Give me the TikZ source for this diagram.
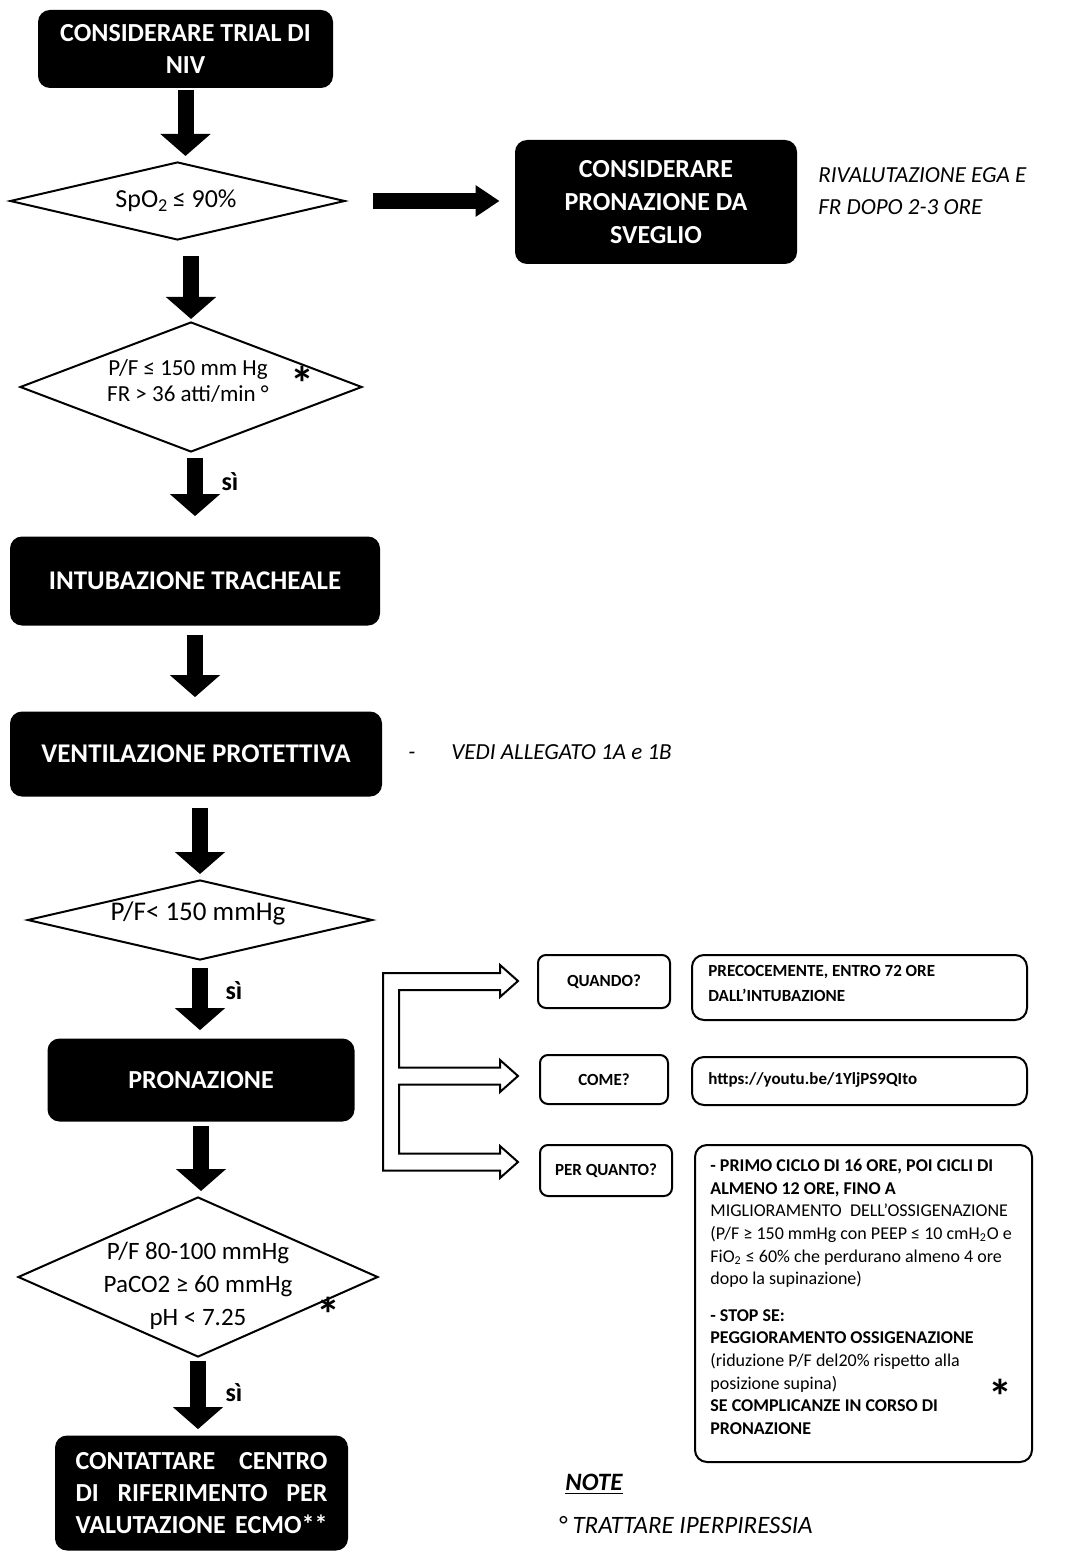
\documentclass[tikz,border=0pt]{standalone}
\usepackage{fontspec}
\setmainfont{Carlito}
\usetikzlibrary{shapes.geometric,arrows.meta}

\begin{document}
\begin{tikzpicture}[x=0.5pt, y=-0.5pt,
  blk/.style={rectangle, rounded corners=6pt, fill=black, text=white,
    font=\bfseries\fontsize{13}{16}\selectfont, align=center, inner sep=0pt},
  dia/.style={diamond, draw, line width=1pt, inner sep=0pt},
  dtxt/.style={align=center, inner sep=0pt},
  barrow/.style={line width=8pt, -{Triangle[length=11pt, width=24.5pt]}},
  si/.style={font=\bfseries\fontsize{13}{15}\selectfont, inner sep=0pt},
  qbox/.style={rectangle, draw, line width=1pt, rounded corners=4pt, inner sep=0pt,
    font=\bfseries\fontsize{8.5}{10}\selectfont},
  ibox/.style={rectangle, draw, line width=1pt, rounded corners=6pt, inner sep=0pt},
  itxt/.style={inner sep=0pt, align=left, font=\bfseries\fontsize{8.5}{12.5}\selectfont},
  note/.style={inner sep=0pt, align=left, font=\itshape\fontsize{11.5}{16}\selectfont},
  star/.style={inner sep=0pt, font=\bfseries\fontsize{24}{24}\selectfont}
]

\fill[white] (0,0) rectangle (1078,1551);
\path[use as bounding box] (0,0) rectangle (1078,1551);

% main column
\node[blk, minimum width=147.5pt, minimum height=39pt] (b1) at (185.5,49)
  {CONSIDERARE TRIAL DI\\NIV};
\node[dia, minimum width=167.5pt, minimum height=39pt] (d1) at (177.5,201) {};
\node[dtxt, font=\fontsize{13}{15}\selectfont] (d1t) at (176,201)
  {SpO\textsubscript{2}\,≤ 90\%};

\node[dia, minimum width=171pt, minimum height=65pt] (d2) at (191,387) {};
\node[dtxt, font=\fontsize{11.5}{13}\selectfont] (d2t) at (188,381)
  {P/F ≤ 150 mm Hg\\FR > 36 atti/min °};
\node[star] (st1) at (302,383) {*};

\node[blk, minimum width=185pt, minimum height=44.5pt,
  font=\bfseries\fontsize{13.5}{16}\selectfont] (b3) at (195,581)
  {INTUBAZIONE TRACHEALE};
\node[blk, minimum width=186pt, minimum height=42.5pt,
  font=\bfseries\fontsize{13.5}{16}\selectfont] (b4) at (196,754)
  {VENTILAZIONE PROTETTIVA};

\node[dia, minimum width=172.5pt, minimum height=40pt] (d3) at (200,920) {};
\node[dtxt, font=\fontsize{13.5}{15}\selectfont] (d3t) at (198,913) {P/F< 150 mmHg};

\node[blk, minimum width=153.5pt, minimum height=41.5pt] (b5) at (201,1080) {PRONAZIONE};

\node[dia, minimum width=180pt, minimum height=80pt] (d4) at (198,1277) {};
\node[dtxt, font=\fontsize{12.5}{16.5}\selectfont] (d4t) at (198,1286)
  {P/F 80-100 mmHg\\PaCO2 ≥ 60 mmHg\\pH < 7.25};
\node[star] (st2) at (328,1314) {*};

\node[blk, minimum width=146.5pt, minimum height=57.5pt] (b6) at (201.5,1493)
  {\makebox[126pt][s]{CONTATTARE\hfill CENTRO}\\
   \makebox[126pt][s]{DI\hfill RIFERIMENTO\hfill PER}\\
   \makebox[126pt][s]{VALUTAZIONE ECMO**}};

% side branch at the top
\node[blk, minimum width=141pt, minimum height=62pt,
  font=\bfseries\fontsize{13}{16.5}\selectfont] (b2) at (656,202)
  {CONSIDERARE\\PRONAZIONE DA\\SVEGLIO};
\node[note, anchor=west] (n1) at (818,191) {RIVALUTAZIONE EGA E\\FR DOPO 2-3 ORE};
\node[note, anchor=west] (n2) at (408,752) {-\hspace{18pt}VEDI ALLEGATO 1A e 1B};

% block arrows of the main flow
\draw[barrow, shorten <=1pt, shorten >=2.5pt] (b1.south) -- (b1.south |- d1.north);
\draw[line width=8pt, -{Triangle[length=12pt, width=15pt]}, shorten <=13.5pt, shorten >=7.5pt]
  (d1.east) -- (d1.east -| b2.west);
\draw[barrow, shorten <=7.5pt, shorten >=1pt] (d2.north |- d1.south) -- (d2.north);
\draw[barrow, shorten <=2.5pt, shorten >=10pt] (b3.north |- d2.south) -- (b3.north);
\draw[barrow, shorten <=4.5pt, shorten >=7pt] (b3.south) -- (b3.south |- b4.north);
\draw[barrow, shorten <=5.5pt, shorten >=2.5pt] (d3.north |- b4.south) -- (d3.north);
\draw[barrow, shorten <=3.5pt, shorten >=4pt] (d3.south) -- (d3.south |- b5.north);
\draw[barrow, shorten <=2pt, shorten >=2.5pt] (b5.south) -- (b5.south |- d4.north);
\draw[barrow, shorten <=1.5pt, shorten >=3pt] (d4.south) -- (d4.south |- b6.north);

\node[si] (s1) at (230,482) {sì};
\node[si] (s2) at (234,991) {sì};
\node[si] (s3) at (234,1393) {sì};

% pronation details: questions
\node[qbox, minimum width=66pt, minimum height=26.5pt] (q1) at (604,981.5) {QUANDO?};
\node[qbox, minimum width=64pt, minimum height=24.5pt] (q2) at (604,1079.5) {COME?};
\node[qbox, minimum width=66pt, minimum height=25.5pt] (q3) at (606,1170.5) {PER QUANTO?};

% open E-shaped bracket with three hollow arrows
\draw[line width=1pt, fill=white, line join=miter]
  (383,973) -- (500,973) -- (500,965) -- (518,981) -- (500,997) -- (500,990)
  -- (399,990) -- (399,1067.5) -- (500,1067.5) -- (500,1060) -- (518,1076)
  -- (500,1092) -- (500,1084.5) -- (399,1084.5) -- (399,1153.5) -- (500,1153.5)
  -- (500,1146) -- (518,1162) -- (500,1178) -- (500,1170.5) -- (383,1170.5) -- cycle;

% pronation details: answers
\node[ibox, minimum width=167.5pt, minimum height=32.5pt] (r1) at (859.5,987.5) {};
\node[itxt, anchor=north west] (r1t) at (708,965)
  {PRECOCEMENTE, ENTRO 72 ORE\\DALL'INTUBAZIONE};
\node[ibox, minimum width=167.5pt, minimum height=24pt] (r2) at (859.5,1081) {};
\node[itxt, anchor=west] (r2t) at (708,1080) {https://youtu.be/1YljPS9QIto};
\node[ibox, minimum width=168.5pt, minimum height=158.5pt] (r3) at (863.5,1303.5) {};
\node[itxt, anchor=north west, font=\fontsize{9}{11.3}\selectfont] (r3t) at (710,1159)
  {{\bfseries - PRIMO CICLO DI 16 ORE, POI CICLI DI}\\
   {\bfseries ALMENO 12 ORE, FINO A}\\
   MIGLIORAMENTO\ \ DELL'OSSIGENAZIONE\\
   (P/F ≥ 150 mmHg con PEEP ≤ 10 cmH\textsubscript{2}O e\\
   FiO\textsubscript{2} ≤ 60\% che perdurano almeno 4 ore\\
   dopo la supinazione)\\[7pt]
   {\bfseries - STOP SE:}\\
   {\bfseries PEGGIORAMENTO OSSIGENAZIONE}\\
   (riduzione P/F del20\% rispetto alla\\
   posizione supina)\\
   {\bfseries SE COMPLICANZE IN CORSO DI}\\
   {\bfseries PRONAZIONE}};
\node[star] (st3) at (1000,1396) {*};

% notes
\node[inner sep=0pt, anchor=west, font=\bfseries\itshape\fontsize{12.5}{14}\selectfont]
  (nt) at (565,1484) {\underline{NOTE}};
\node[inner sep=0pt, anchor=west, font=\itshape\fontsize{12.5}{14}\selectfont]
  (nt2) at (558,1525) {° TRATTARE IPERPIRESSIA};
\end{tikzpicture}
\end{document}
